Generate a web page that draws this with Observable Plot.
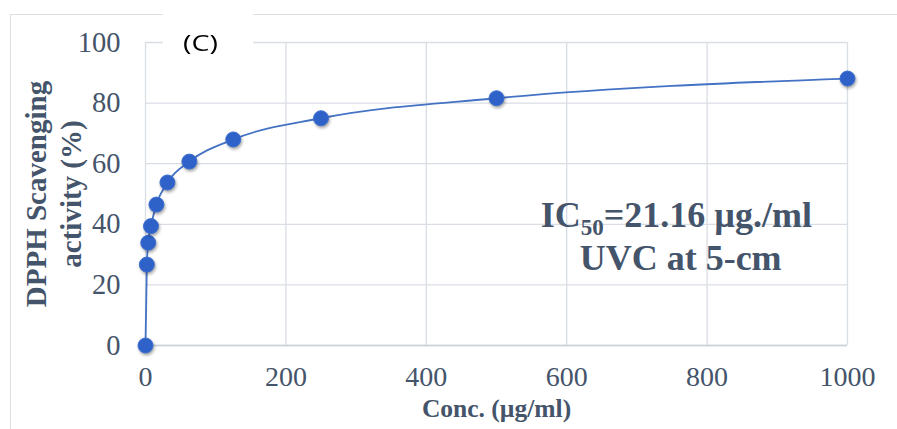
<!DOCTYPE html>
<html>
<head>
<meta charset="utf-8">
<script src="https://cdn.jsdelivr.net/npm/d3@7"></script>
<script src="https://cdn.jsdelivr.net/npm/@observablehq/plot@0.6"></script>
<style>
  html, body { margin: 0; padding: 0; background: #fff; }
  #wrap { position: relative; width: 897px; height: 429px; overflow: hidden; }
  #frame { position: absolute; left: 10px; top: 14px; width: 1000px; height: 1000px;
           border-left: 1.5px solid #dcdfe4; border-top: 1.5px solid #dcdfe4; box-sizing: border-box; }
  #chart { position: absolute; left: 0; top: 0; }
  #tag { position: absolute; left: 163px; top: 0; width: 90px; height: 53px; background: #fff;
         font-family: "Open Sans", "Noto Sans", sans-serif; font-size: 22px; color: #000; }
  #tag span { position: absolute; left: 20px; top: 31px; line-height: 22px; transform: scaleX(1.3); transform-origin: left center; }
  .dots circle { filter: drop-shadow(1px 2px 1.5px rgba(0,0,0,0.35)); }
</style>
</head>
<body>
<div id="wrap">
  <div id="frame"></div>
  <div id="chart"></div>
  <div id="tag"><span>(C)</span></div>
</div>
<script>
const conc = [0, 1.95, 3.9, 7.8, 15.6, 31.25, 62.5, 125, 250, 500, 1000];
const activity = [0, 26.7, 33.9, 39.4, 46.5, 53.8, 60.7, 68.0, 75.0, 81.6, 88.1];
const xTicks = [0, 200, 400, 600, 800, 1000];
const yTicks = [0, 20, 40, 60, 80, 100];
const yTitle = "DPPH Scavenging\nactivity (%)";
const xTitle = "Conc. (µg/ml)";
const note1 = ["IC", "50", "=21.16 µg./ml"];
const note2 = "UVC at 5-cm";

const data = conc.map((c, i) => ({conc: c, act: activity[i]}));
const ink = "#44546a";
const serif = "'Liberation Serif', 'Times New Roman', serif";

const chart = Plot.plot({
  width: 897,
  height: 429,
  marginLeft: 145,
  marginRight: 50,
  marginTop: 42,
  marginBottom: 84,
  style: { fontFamily: serif, background: "transparent", overflow: "visible" },
  x: { domain: [0, 1000], label: null },
  y: { domain: [0, 100], label: null },
  marks: [
    Plot.gridX(xTicks, { stroke: "#d9dde4", strokeOpacity: 1, strokeWidth: 1.3 }),
    Plot.gridY(yTicks, { stroke: "#d9dde4", strokeOpacity: 1, strokeWidth: 1.3 }),
    Plot.ruleY([0], { stroke: "#c9d0da", strokeWidth: 1.5 }),
    Plot.axisX(xTicks, { tickSize: 0, tickPadding: 21, fontSize: 28, fill: ink, label: null, tickFormat: d => String(d) }),
    Plot.axisY(yTicks, { tickSize: 0, tickPadding: 25, fontSize: 28.5, fill: ink, label: null, tickFormat: d => String(d) }),
    Plot.line(data, { x: "conc", y: "act", stroke: "#4472c4", strokeWidth: 1.8, curve: "monotone-x" }),
    Plot.dot(data, { x: "conc", y: "act", r: 7.5, fill: "#2e62c8", stroke: "#3d6fd0", strokeWidth: 1, className: "dots" }),
    Plot.text([yTitle], { frameAnchor: "left", textAnchor: "middle", lineAnchor: "middle", rotate: -90, dx: -93, dy: 0, fontSize: 29, fontWeight: "bold", fill: ink, lineHeight: 1.2 }),
    Plot.text([xTitle], { frameAnchor: "bottom", lineAnchor: "bottom", dy: 71, fontSize: 25.5, fontWeight: "bold", fill: ink })
  ]
});
document.getElementById("chart").appendChild(chart);

// annotation placed via the plot's own scales
const sx = chart.scale("x"), sy = chart.scale("y");
const svg = d3.select(chart);
const g = svg.append("g").attr("fill", ink).attr("font-family", serif).attr("font-weight", "bold").attr("font-size", 36).attr("text-anchor", "middle");
const t1 = g.append("text").attr("x", sx.apply(757)).attr("y", sy.apply(38.9));
t1.append("tspan").text(note1[0]);
t1.append("tspan").text(note1[1]).attr("font-size", 23).attr("dy", 8);
t1.append("tspan").text(note1[2]).attr("dy", -8);
g.append("text").attr("x", sx.apply(763)).attr("y", sy.apply(24.75)).text(note2);
</script>
</body>
</html>
